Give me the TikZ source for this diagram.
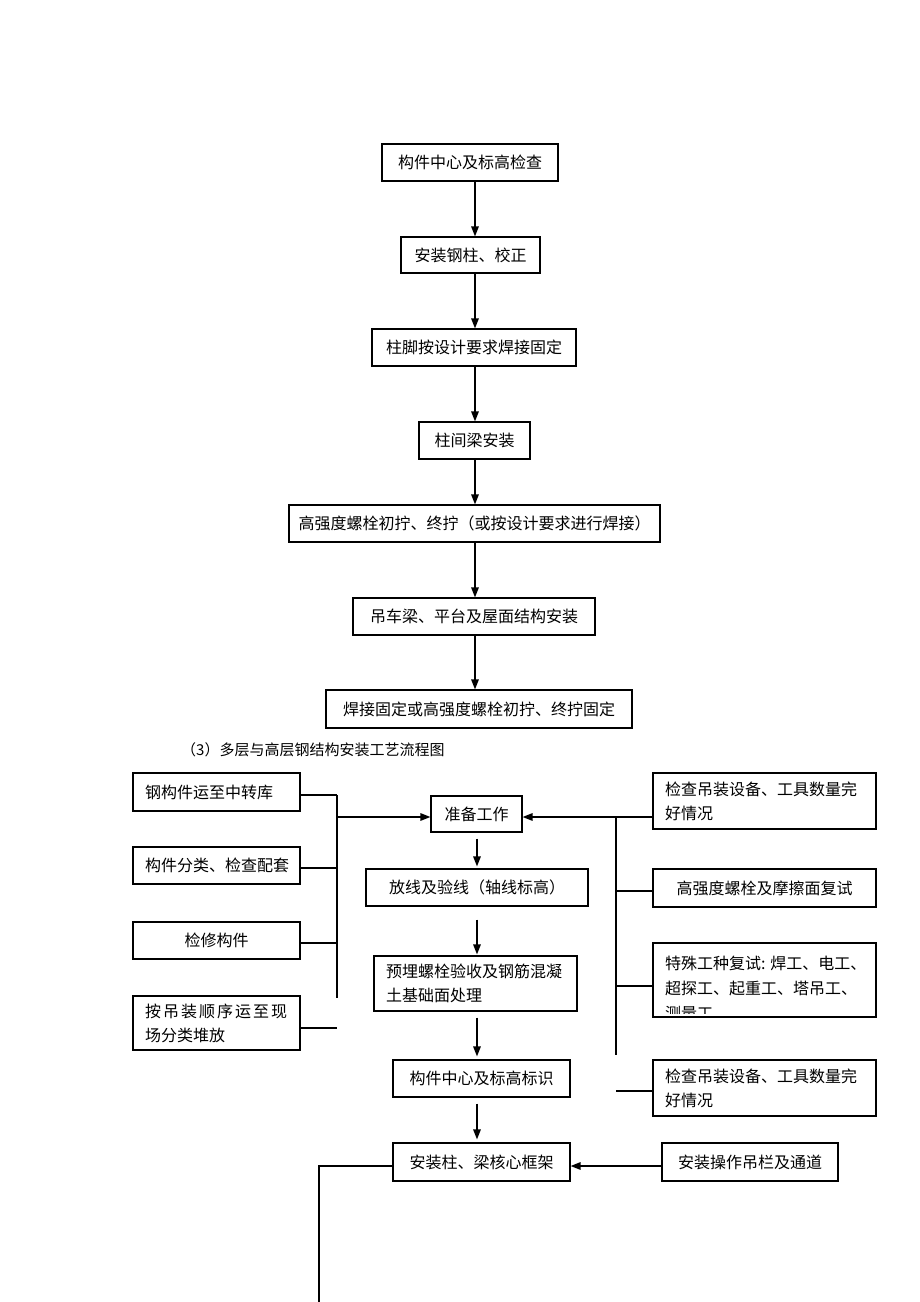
\documentclass[tikz,border=0pt]{standalone}
\usepackage{fontspec}
\setmainfont{Noto Sans CJK SC}
\usetikzlibrary{arrows.meta}
\begin{document}
\begin{tikzpicture}[x=1pt,y=-1pt,
  box/.style={draw, line width=1.2pt, inner sep=0pt, font=\fontsize{16pt}{24pt}\selectfont},
  lbox/.style={box, align=left},
  conn/.style={line width=1.3pt},
  arr/.style={line width=1.5pt, -{Triangle[length=10pt,width=7.5pt]}}]
\fill[white] (0,0) rectangle (920,1302);
\useasboundingbox (0,0) rectangle (920,1302);

% ---------- upper flow ----------
\node[box, minimum width=176pt, minimum height=37pt] (t1) at (470,162.5) {构件中心及标高检查};
\node[box, minimum width=139pt, minimum height=36pt] (t2) at (470.5,255) {安装钢柱、校正};
\node[box, minimum width=204pt, minimum height=37pt] (t3) at (474,347.5) {柱脚按设计要求焊接固定};
\node[box, minimum width=111pt, minimum height=37pt] (t4) at (474.5,440.5) {柱间梁安装};
\node[box, minimum width=371pt, minimum height=37pt] (t5) at (474.5,523.5) {高强度螺栓初拧、终拧（或按设计要求进行焊接）};
\node[box, minimum width=242pt, minimum height=37pt] (t6) at (474,616.5) {吊车梁、平台及屋面结构安装};
\node[box, minimum width=306pt, minimum height=38pt] (t7) at (479,709) {焊接固定或高强度螺栓初拧、终拧固定};

\coordinate (ax) at (475,0);
\draw[arr] (t1.south -| ax) -- (t2.north -| ax);
\draw[arr] (t2.south -| ax) -- (t3.north -| ax);
\draw[arr] (t3.south -| ax) -- (t4.north -| ax);
\draw[arr] (t4.south -| ax) -- (t5.north -| ax);
\draw[arr] (t5.south -| ax) -- (t6.north -| ax);
\draw[arr] (t6.south -| ax) -- (t7.north -| ax);

\node[anchor=west, inner sep=0pt, font=\fontsize{15pt}{18pt}\selectfont] (cap) at (181,750) {（3）多层与高层钢结构安装工艺流程图};

% ---------- lower flow: left column ----------
\node[lbox, minimum width=167pt, minimum height=38pt, text width=143pt] (l1) at (216.5,792) {钢构件运至中转库};
\node[lbox, minimum width=167pt, minimum height=37pt, text width=143pt] (l2) at (216.5,865.5) {构件分类、检查配套};
\node[box, minimum width=167pt, minimum height=37pt] (l3) at (216.5,940.5) {检修构件};
\node[lbox, minimum width=167pt, minimum height=54pt, text width=143pt] (l4) at (216.5,1023)
  {\makebox[142pt][s]{按\hfil 吊\hfil 装\hfil 顺\hfil 序\hfil 运\hfil 至\hfil 现}\\场分类堆放};

% ---------- lower flow: centre column ----------
\node[box, minimum width=91pt, minimum height=36pt] (prep) at (476.5,814) {准备工作};
\node[box, minimum width=222pt, minimum height=37pt] (c2) at (477,887.5) {放线及验线（轴线标高）};
\node[lbox, minimum width=203pt, minimum height=55pt, text width=179pt] (c3) at (475.5,983.5) {预埋螺栓验收及钢筋混凝\\土基础面处理};
\node[box, minimum width=177pt, minimum height=37pt] (c4) at (481.5,1078.5) {构件中心及标高标识};
\node[box, minimum width=177pt, minimum height=38pt] (c5) at (481.5,1162) {安装柱、梁核心框架};

\coordinate (bx) at (477,0);
\draw[arr, shorten <=6pt, shorten >=2pt] (prep.south -| bx) -- (c2.north -| bx);
\draw[arr, shorten <=13pt, shorten >=1pt] (c2.south -| bx) -- (c3.north -| bx);
\draw[arr, shorten <=6pt, shorten >=3pt] (c3.south -| bx) -- (c4.north -| bx);
\draw[arr, shorten <=6pt, shorten >=3pt] (c4.south -| bx) -- (c5.north -| bx);

% ---------- lower flow: right column ----------
\node[lbox, minimum width=223pt, minimum height=56pt, text width=199pt] (r1) at (764.5,801) {检查吊装设备、工具数量完\\好情况};
\node[box, minimum width=223pt, minimum height=38pt] (r2) at (764.5,888) {高强度螺栓及摩擦面复试};
\node[box, minimum width=223pt, minimum height=74pt] (r3) at (764.5,980) {};
\begin{scope}
  \clip (653.6,943.6) rectangle (875.4,1013.5);
  \node[anchor=west, inner sep=0pt, align=left, font=\fontsize{16pt}{25pt}\selectfont] (r3t) at (665,988)
    {特殊工种复试: 焊工、电工、\\超探工、起重工、塔吊工、\\测量工};
\end{scope}
\node[lbox, minimum width=223pt, minimum height=56pt, text width=199pt] (r4) at (764.5,1088) {检查吊装设备、工具数量完\\好情况};
\node[box, minimum width=176pt, minimum height=38pt] (c6) at (750,1162) {安装操作吊栏及通道};

% ---------- left connectors ----------
\coordinate (vl) at (337,817);
\coordinate (vltop) at (337,795);
\coordinate (vlbot) at (337,998);
\coordinate (y1) at (0,795);
\coordinate (y2) at (0,868);
\coordinate (y3) at (0,943);
\coordinate (y4) at (0,1028);
\draw[conn] (vltop) -- (vlbot);
\draw[conn] (l1.east |- y1) -- (vl |- y1);
\draw[conn] (l2.east |- y2) -- (vl |- y2);
\draw[conn] (l3.east |- y3) -- (vl |- y3);
\coordinate (l4end) at (337,1028);
\draw[conn] (l4.east |- y4) -- (l4end);
\draw[arr] (vl) -- (prep.west |- vl);

% ---------- right connectors ----------
\coordinate (vr) at (616,817);
\coordinate (vrbot) at (616,1055);
\coordinate (z2) at (0,891);
\coordinate (z3) at (0,986);
\coordinate (z4) at (0,1091);
\draw[conn] (vr) -- (vrbot);
\draw[conn] (vr) -- (r1.west |- vr);
\draw[arr] (vr) -- (prep.east |- vr);
\draw[conn] (r2.west |- z2) -- (vr |- z2);
\draw[conn] (r3.west |- z3) -- (vr |- z3);
\coordinate (r4end) at (616,1091);
\draw[conn] (r4.west |- z4) -- (r4end);

% ---------- bottom ----------
\coordinate (z5) at (0,1166);
\draw[arr] (c6.west |- z5) -- (c5.east |- z5);
\coordinate (lcorner) at (319,1166);
\coordinate (lend) at (319,1302);
\draw[conn] (c5.west |- z5) -- (lcorner) -- (lend);
\end{tikzpicture}
\end{document}
